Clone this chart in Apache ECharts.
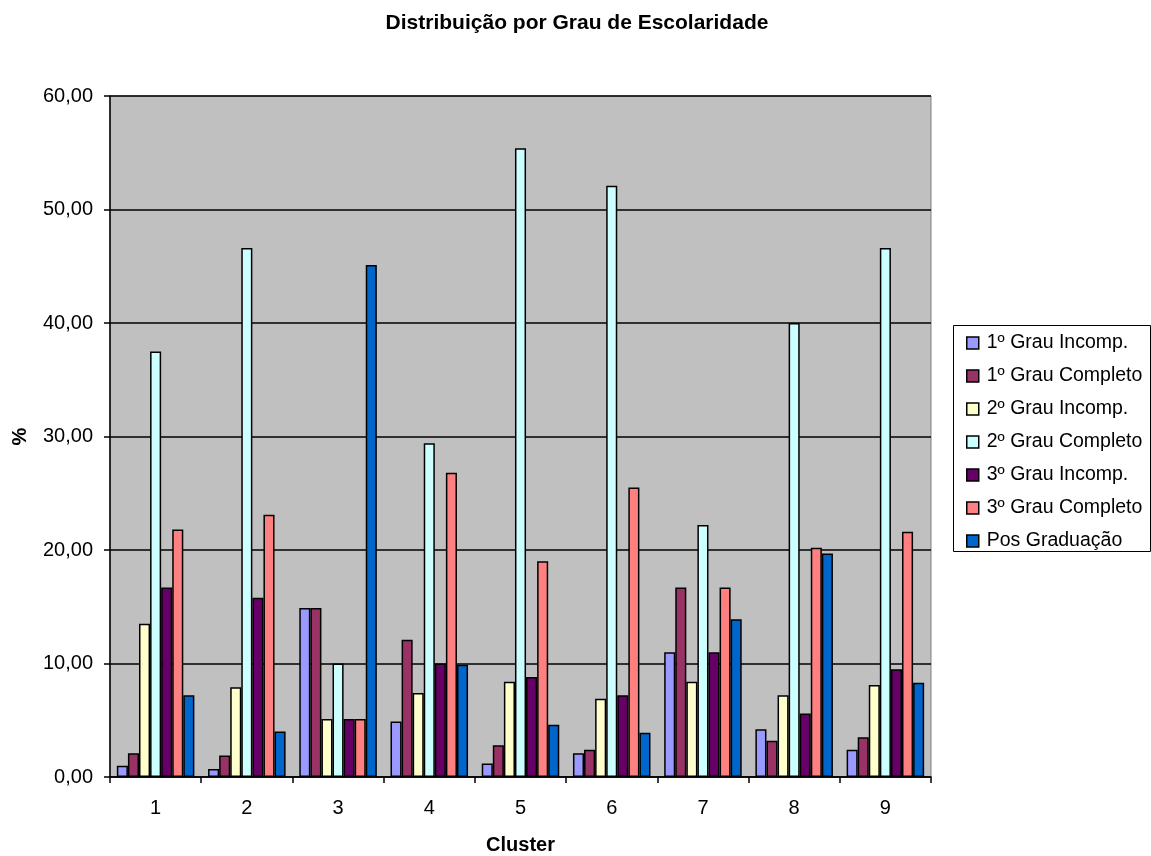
<!DOCTYPE html>
<html>
<head>
<meta charset="utf-8">
<script src="https://cdn.jsdelivr.net/npm/echarts@6/dist/echarts.min.js"></script>
<style>
  html, body { margin: 0; padding: 0; background: #ffffff; }
  #chart { width: 1151px; height: 856px; }
</style>
</head>
<body>
<div id="chart"></div>
<script>
// Clusters on the x axis
const clusters = ['1', '2', '3', '4', '5', '6', '7', '8', '9'];

// Share (%) of each schooling level per cluster
const grau1Incomp   = [1.0, 0.7, 14.9, 4.9, 1.2, 2.1, 11.0, 4.2, 2.4];
const grau1Completo = [2.1, 1.9, 14.9, 12.1, 2.8, 2.4, 16.7, 3.2, 3.5];
const grau2Incomp   = [13.5, 7.9, 5.1, 7.4, 8.4, 6.9, 8.4, 7.2, 8.1];
const grau2Completo = [37.5, 46.6, 10.0, 29.4, 55.4, 52.1, 22.2, 40.0, 46.6];
const grau3Incomp   = [16.7, 15.8, 5.1, 10.0, 8.8, 7.2, 11.0, 5.6, 9.5];
const grau3Completo = [21.8, 23.1, 5.1, 26.8, 19.0, 25.5, 16.7, 20.2, 21.6];
const posGraduacao  = [7.2, 4.0, 45.1, 9.9, 4.6, 3.9, 13.9, 19.7, 8.3];

const seriesNames = [
  '1º Grau Incomp.', '1º Grau Completo', '2º Grau Incomp.', '2º Grau Completo',
  '3º Grau Incomp.', '3º Grau Completo', 'Pos Graduação'
];
const seriesData = [grau1Incomp, grau1Completo, grau2Incomp, grau2Completo,
                    grau3Incomp, grau3Completo, posGraduacao];
const seriesColors = ['#9999FF', '#993366', '#FFFFCC', '#CCFFFF', '#660066', '#FF8080', '#0066CC'];

const FONT = '"Liberation Sans", Arial, sans-serif';

const chart = echarts.init(document.getElementById('chart'), null, { renderer: 'canvas' });

chart.setOption({
  animation: false,
  backgroundColor: '#ffffff',
  title: {
    text: 'Distribuição por Grau de Escolaridade',
    left: 572,
    top: 8,
    textAlign: 'center',
    textStyle: { fontFamily: FONT, fontSize: 21, fontWeight: 'bold', color: '#000' }
  },
  grid: {
    left: 110, right: 220, top: 96, bottom: 79,
    outerBoundsMode: 'none',
    containLabel: false,
    show: true,
    backgroundColor: '#C0C0C0',
    borderColor: '#808080',
    borderWidth: 1
  },
  legend: {
    orient: 'vertical',
    left: 961,
    top: 328,
    itemWidth: 12,
    itemHeight: 12,
    itemGap: 13,
    icon: 'rect',
    itemStyle: { borderColor: '#000', borderWidth: 1.5 },
    textStyle: { fontFamily: FONT, fontSize: 19.5, color: '#000', lineHeight: 20, padding: [0, 0, 0, 3] },
    data: seriesNames
  },
  graphic: [{
    type: 'rect',
    shape: { x: 953.5, y: 325.5, width: 197, height: 226 },
    style: { fill: 'none', stroke: '#000', lineWidth: 1 },
    z: 0
  }],
  xAxis: {
    type: 'category',
    data: clusters,
    name: 'Cluster',
    nameLocation: 'middle',
    nameGap: 58,
    nameTextStyle: { fontFamily: FONT, fontSize: 20, fontWeight: 'bold', color: '#000' },
    axisLine: { lineStyle: { color: '#000', width: 1.5 } },
    axisTick: { show: true, length: 6, alignWithLabel: false, lineStyle: { color: '#000', width: 1.5 } },
    axisLabel: { fontFamily: FONT, fontSize: 20, color: '#000', margin: 21 }
  },
  yAxis: {
    type: 'value',
    min: 0, max: 60, interval: 10,
    name: '%',
    nameLocation: 'middle',
    nameGap: 80,
    nameTextStyle: { fontFamily: FONT, fontSize: 20, fontWeight: 'bold', color: '#000' },
    axisLine: { show: true, lineStyle: { color: '#000', width: 1.5 } },
    axisTick: { show: true, length: 6, lineStyle: { color: '#000', width: 1.5 } },
    axisLabel: {
      fontFamily: FONT, fontSize: 20, color: '#000', margin: 17,
      formatter: v => v.toFixed(2).replace('.', ',')
    },
    splitLine: { show: true, lineStyle: { color: '#000', width: 1.5 } }
  },
  series: seriesNames.map((name, i) => ({
    name: name,
    type: 'bar',
    data: seriesData[i],
    barGap: '0%',
    barCategoryGap: '15%',
    itemStyle: { color: seriesColors[i], borderColor: '#000', borderWidth: 1.5 }
  }))
});
</script>
</body>
</html>
